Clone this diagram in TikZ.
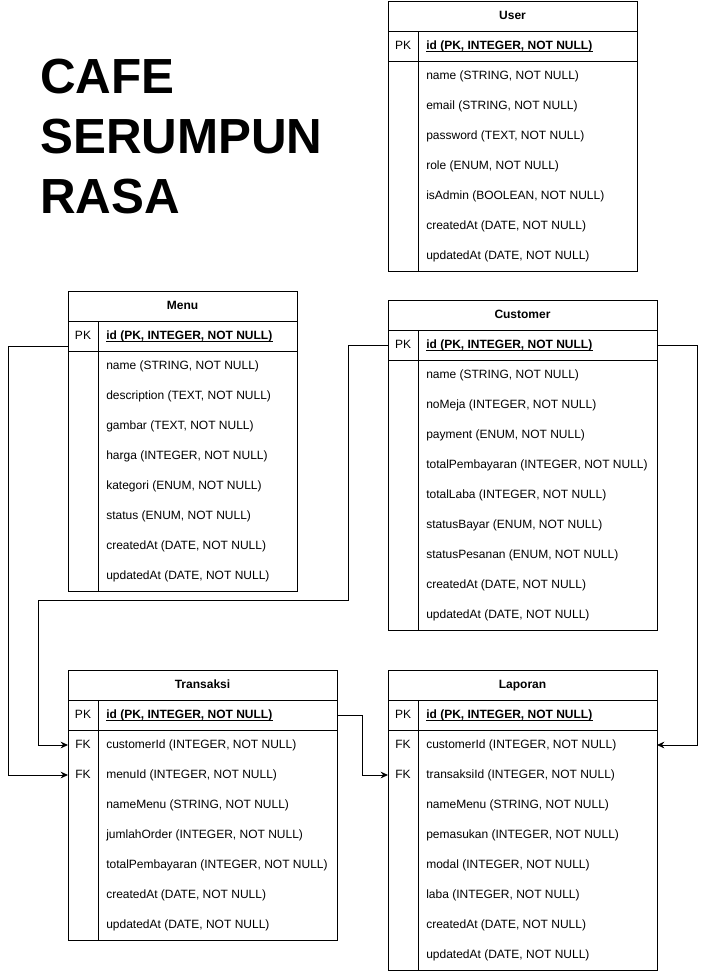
\documentclass[tikz,border=0pt]{standalone}
\usepackage{fontspec}
\setmainfont{Liberation Sans}
\usetikzlibrary{arrows.meta}
\tikzset{
  every picture/.style={x=0.75pt,y=-0.75pt},
  tline/.style={draw=black,line width=0.75pt},
  ttitle/.style={font=\fontsize{9}{11}\selectfont\bfseries,inner sep=0pt,anchor=base},
  tkey/.style={font=\fontsize{9}{11}\selectfont,inner sep=0pt,anchor=base},
  tfield/.style={font=\fontsize{9}{11}\selectfont,inner sep=0pt,anchor=base west},
  conn/.style={draw=black,line width=0.75pt,-{Stealth[length=5.5pt,width=5pt]}},
  bigtitle/.style={font=\fontsize{37}{45}\selectfont\bfseries,inner sep=0pt,anchor=base west}
}
% #1 name, #2 left x, #3 top y, #4 width, #5 number of rows (incl. PK), #6 title, #7 rows key/text
\newcommand\ertable[7]{%
  \node[tline,anchor=north west,minimum width=#4*0.75pt,minimum height=(30+30*#5)*0.75pt,inner sep=0pt] (#1) at (#2,#3) {};
  \draw[tline] (#2,#3+30) -- ++(#4,0);
  \draw[tline] (#2,#3+60) -- ++(#4,0);
  \draw[tline] (#2+30,#3+30) -- (#2+30,#3+30+30*#5);
  \node[ttitle] (#1-title) at (#2+#4/2,#3+18.3) {#6};
  \foreach \k/\t [count=\i from 0] in {#7} {
    \coordinate (#1-L\i) at (#2,#3+45+30*\i);
    \coordinate (#1-R\i) at (#2+#4,#3+45+30*\i);
    \node[tkey] (#1-k\i) at (#2+15,#3+48.5+30*\i) {\k};
    \ifnum\i=0
      \node[tfield,font=\fontsize{9}{11}\selectfont\bfseries] (#1-f\i) at (#2+38,#3+48.5+30*\i) {\t};
      \draw[line width=0.75pt] ([yshift=-1.3pt]#1-f\i.base west) -- ([yshift=-1.3pt]#1-f\i.base east);
    \else
      \node[tfield] (#1-f\i) at (#2+38,#3+48.5+30*\i) {\t};
    \fi
  }%
}
\begin{document}
\begin{tikzpicture}
\useasboundingbox (0,0) rectangle (707,971);
\fill[white] (0,0) rectangle (707,971);

\node[bigtitle] (t1) at (40,93) {CAFE};
\node[bigtitle] (t2) at (40,153) {SERUMPUN};
\node[bigtitle] (t3) at (40,213) {RASA};

\ertable{user}{388}{1}{249}{8}{User}{PK/{id (PK, INTEGER, NOT NULL)},/{name (STRING, NOT NULL)},/{email (STRING, NOT NULL)},/{password (TEXT, NOT NULL)},/{role (ENUM, NOT NULL)},/{isAdmin (BOOLEAN, NOT NULL)},/{createdAt (DATE, NOT NULL)},/{updatedAt (DATE, NOT NULL)}}

\ertable{menu}{68}{291}{229}{9}{Menu}{PK/{id (PK, INTEGER, NOT NULL)},/{name (STRING, NOT NULL)},/{description (TEXT, NOT NULL)},/{gambar (TEXT, NOT NULL)},/{harga (INTEGER, NOT NULL)},/{kategori (ENUM, NOT NULL)},/{status (ENUM, NOT NULL)},/{createdAt (DATE, NOT NULL)},/{updatedAt (DATE, NOT NULL)}}

\ertable{cust}{388}{300}{269}{10}{Customer}{PK/{id (PK, INTEGER, NOT NULL)},/{name (STRING, NOT NULL)},/{noMeja (INTEGER, NOT NULL)},/{payment (ENUM, NOT NULL)},/{totalPembayaran (INTEGER, NOT NULL)},/{totalLaba (INTEGER, NOT NULL)},/{statusBayar (ENUM, NOT NULL)},/{statusPesanan (ENUM, NOT NULL)},/{createdAt (DATE, NOT NULL)},/{updatedAt (DATE, NOT NULL)}}

\ertable{trans}{68}{670}{269}{8}{Transaksi}{PK/{id (PK, INTEGER, NOT NULL)},FK/{customerId (INTEGER, NOT NULL)},FK/{menuId (INTEGER, NOT NULL)},/{nameMenu (STRING, NOT NULL)},/{jumlahOrder (INTEGER, NOT NULL)},/{totalPembayaran (INTEGER, NOT NULL)},/{createdAt (DATE, NOT NULL)},/{updatedAt (DATE, NOT NULL)}}

\ertable{lap}{388}{670}{269}{9}{Laporan}{PK/{id (PK, INTEGER, NOT NULL)},FK/{customerId (INTEGER, NOT NULL)},FK/{transaksiId (INTEGER, NOT NULL)},/{nameMenu (STRING, NOT NULL)},/{pemasukan (INTEGER, NOT NULL)},/{modal (INTEGER, NOT NULL)},/{laba (INTEGER, NOT NULL)},/{createdAt (DATE, NOT NULL)},/{updatedAt (DATE, NOT NULL)}}

\draw[conn] ([yshift=-7.5pt]menu-L0) -- ++(-60,0) |- (trans-L2);
\draw[conn] (cust-L0) -- ++(-40,0) -- ++(0,255) -- ++(-310,0) |- (trans-L1);
\draw[conn] (cust-R0) -- ++(40,0) |- (lap-R1);
\draw[conn] (trans-R0) -- ++(25,0) |- (lap-L2);
\end{tikzpicture}
\end{document}
